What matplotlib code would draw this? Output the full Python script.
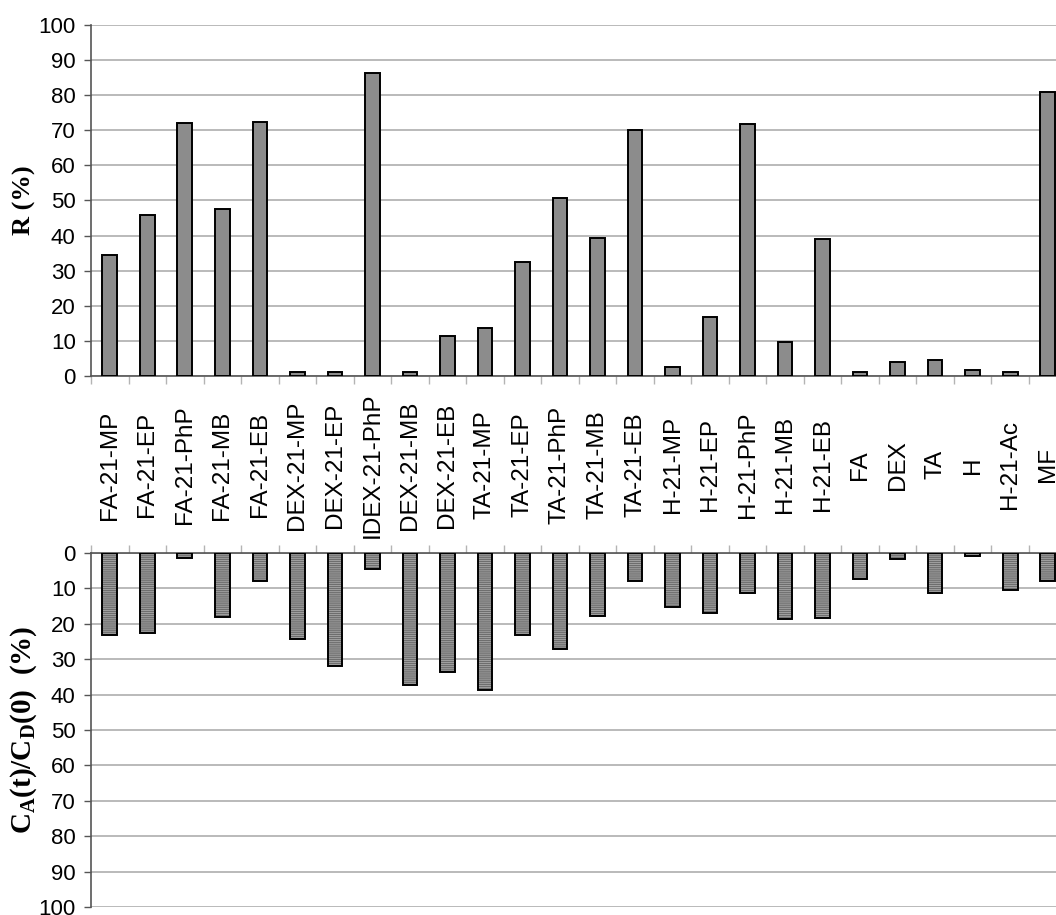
import numpy as np
import matplotlib
matplotlib.use("Agg")
import matplotlib.pyplot as plt
from matplotlib.ticker import FixedLocator

# Data
categories = ["FA-21-MP", "FA-21-EP", "FA-21-PhP", "FA-21-MB", "FA-21-EB",
              "DEX-21-MP", "DEX-21-EP", "IDEX-21-PhP", "DEX-21-MB", "DEX-21-EB",
              "TA-21-MP", "TA-21-EP", "TA-21-PhP", "TA-21-MB", "TA-21-EB",
              "H-21-MP", "H-21-EP", "H-21-PhP", "H-21-MB", "H-21-EB",
              "FA", "DEX", "TA", "H", "H-21-Ac", "MF"]
r_pct = [34.5, 46, 72, 47.5, 72.5,
         1, 1, 86.2, 1, 11.3,
         13.7, 32.6, 50.8, 39.4, 70.2,
         2.7, 16.9, 71.9, 9.8, 39.0,
         1.1, 4.0, 4.5, 1.6, 1.1, 80.9]
ca_cd = [23.2, 22.6, 1.5, 18.0, 7.9,
         24.3, 31.9, 4.5, 37.3, 33.6,
         38.7, 23.2, 27.1, 17.8, 7.9,
         15.3, 17.0, 11.3, 18.7, 18.3,
         7.4, 1.7, 11.3, 0.8, 10.4, 7.9]
yticks = list(range(0, 101, 10))

plt.rcParams["mathtext.fontset"] = "custom"
plt.rcParams["mathtext.rm"] = "Liberation Serif:bold"
plt.rcParams["mathtext.bf"] = "Liberation Serif:bold"
plt.rcParams["mathtext.it"] = "Liberation Serif:bold"
plt.rcParams["hatch.linewidth"] = 0.9

SPINE = "#555555"
GRID = "#b4b4b4"
TICKFONT = dict(family="Liberation Sans", size=16)

x = np.arange(len(categories))
bounds = np.arange(len(categories) + 1) - 0.5

fig = plt.figure(figsize=(10.56, 9.15), dpi=100)
L, W = 91 / 1056, 975.5 / 1056
ax1 = fig.add_axes([L, 1 - 376 / 915, W, 351 / 915])
ax2 = fig.add_axes([L, 1 - 907 / 915, W, 354 / 915])

for ax in (ax1, ax2):
    ax.set_xlim(-0.5, len(categories) - 0.5)
    ax.yaxis.set_major_locator(FixedLocator(yticks))
    ax.grid(axis="y", color=GRID, linewidth=1.3)
    ax.set_axisbelow(True)
    ax.spines["right"].set_visible(False)
    ax.spines["left"].set_color(SPINE)
    ax.spines["left"].set_linewidth(1.2)
    ax.tick_params(axis="y", which="major", length=5, width=1, color=SPINE, pad=6)
    ax.xaxis.set_minor_locator(FixedLocator(bounds))
    ax.set_yticklabels([str(v) for v in yticks], **TICKFONT)

# top panel: R (%)
ax1.bar(x, r_pct, width=0.39, color="#8c8c8c", edgecolor="black",
        linewidth=1.4, zorder=3)
ax1.set_ylim(0, 100)
ax1.spines["top"].set_visible(False)
ax1.spines["bottom"].set_color(SPINE)
ax1.spines["bottom"].set_linewidth(1.2)
ax1.set_xticks(x)
ax1.set_xticklabels(categories, rotation=90, family="Liberation Sans", size=17.5)
ax1.tick_params(axis="x", which="major", length=0, pad=64)
ax1.tick_params(axis="x", which="minor", length=6, width=1, color=GRID)
for lbl in ax1.get_xticklabels():
    lbl.set_va("center")
ax1.set_ylabel("R (%)", family="Liberation Serif", weight="bold", size=19)
ax1.yaxis.set_label_coords(-0.056, 0.5)

# bottom panel: CA(t)/CD(0) (%), inverted axis
ax2.bar(x, ca_cd, width=0.39, color="#a8a8a8", edgecolor="#6e6e6e",
        hatch="--------", linewidth=0, zorder=3)
ax2.bar(x, ca_cd, width=0.39, fill=False, edgecolor="black",
        linewidth=1.4, zorder=4)
ax2.set_ylim(100, 0)
ax2.spines["bottom"].set_visible(False)
ax2.spines["top"].set_color(SPINE)
ax2.spines["top"].set_linewidth(1.2)
ax2.xaxis.tick_top()
ax2.set_xticks([])
ax2.xaxis.set_minor_locator(FixedLocator(bounds))
ax2.tick_params(axis="x", which="minor", top=True, bottom=False, length=6,
                width=1, color=GRID)
ax2.set_ylabel(r"$\mathbf{C_A(t)/C_D(0)}$  (%)", family="Liberation Serif",
               weight="bold", size=21)
ax2.yaxis.set_label_coords(-0.053, 0.5)

fig.savefig("out.png", dpi=100)
